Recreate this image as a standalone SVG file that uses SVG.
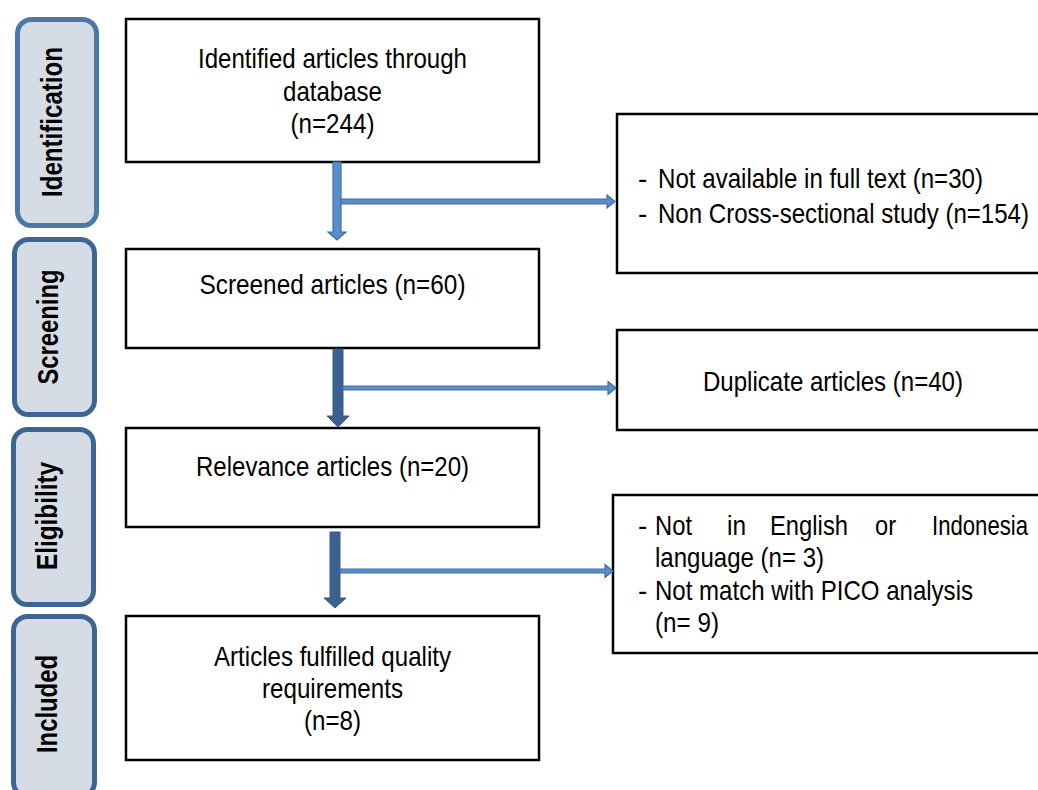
<svg xmlns="http://www.w3.org/2000/svg" width="1038" height="790" viewBox="0 0 1038 790">
<defs>
<style>
.stage{fill:#d5dce6;stroke:#3c6594;stroke-width:5}
.stage1{fill:#d5dce6;stroke:#4a79a8;stroke-width:5}
.stxt{font-family:"Liberation Sans",Arial,sans-serif;font-size:29px;font-weight:bold;fill:#000;text-anchor:middle}
.box{fill:#fff;stroke:#000;stroke-width:2.5}
.t{font-family:"Liberation Sans",Arial,sans-serif;font-size:28px;fill:#000}
.c{text-anchor:middle}
.light{fill:#5a8ec9;stroke:#3e6fa6;stroke-width:1.2}
.dark{fill:#3a6190;stroke:#385d8a;stroke-width:1}
</style>
</defs>
<rect width="1038" height="790" fill="#fff"/>

<g id="stage-identification">
<rect class="stage1" x="17.5" y="19.5" width="79" height="206" rx="14"/>
<text class="stxt" transform="translate(62,122) rotate(-90)" textLength="150" lengthAdjust="spacingAndGlyphs">Identification</text>
</g>
<g id="stage-screening">
<rect class="stage" x="14.5" y="239.5" width="80" height="175" rx="14"/>
<text class="stxt" transform="translate(58,327) rotate(-90)" textLength="115" lengthAdjust="spacingAndGlyphs">Screening</text>
</g>
<g id="stage-eligibility">
<rect class="stage" x="13.5" y="429.5" width="80" height="175" rx="14"/>
<text class="stxt" transform="translate(57,516) rotate(-90)" textLength="108" lengthAdjust="spacingAndGlyphs">Eligibility</text>
</g>
<g id="stage-included">
<rect class="stage" x="13.5" y="616.5" width="81" height="180" rx="14"/>
<text class="stxt" transform="translate(57,704) rotate(-90)" textLength="98" lengthAdjust="spacingAndGlyphs">Included</text>
</g>

<g id="node-identified">
<rect class="box" x="126" y="19" width="413" height="143"/>
<text class="t c" x="332.5" y="68" textLength="269" lengthAdjust="spacingAndGlyphs">Identified articles through</text>
<text class="t c" x="332.5" y="100.5" textLength="99" lengthAdjust="spacingAndGlyphs">database</text>
<text class="t c" x="332.5" y="133" textLength="84" lengthAdjust="spacingAndGlyphs">(n=244)</text>
</g>
<g id="node-screened">
<rect class="box" x="126" y="249" width="413" height="99"/>
<text class="t c" x="332.5" y="294" textLength="266" lengthAdjust="spacingAndGlyphs">Screened articles (n=60)</text>
</g>
<g id="node-relevance">
<rect class="box" x="126" y="428" width="413" height="99"/>
<text class="t c" x="332.5" y="476" textLength="273" lengthAdjust="spacingAndGlyphs">Relevance articles (n=20)</text>
</g>
<g id="node-included">
<rect class="box" x="126" y="616" width="413" height="144"/>
<text class="t c" x="332.5" y="666" textLength="237" lengthAdjust="spacingAndGlyphs">Articles fulfilled quality</text>
<text class="t c" x="332.5" y="698" textLength="141" lengthAdjust="spacingAndGlyphs">requirements</text>
<text class="t c" x="332.5" y="730" textLength="57" lengthAdjust="spacingAndGlyphs">(n=8)</text>
</g>

<g id="node-excluded-1">
<rect class="box" x="617" y="114" width="430" height="159"/>
<text class="t" x="638" y="188">-</text>
<text class="t" x="658" y="188" textLength="325" lengthAdjust="spacingAndGlyphs">Not available in full text (n=30)</text>
<text class="t" x="638" y="223">-</text>
<text class="t" x="658" y="223" textLength="371" lengthAdjust="spacingAndGlyphs">Non Cross-sectional study (n=154)</text>
</g>
<g id="node-duplicate">
<rect class="box" x="617" y="330" width="430" height="100"/>
<text class="t" x="703" y="391" textLength="260" lengthAdjust="spacingAndGlyphs">Duplicate articles (n=40)</text>
</g>
<g id="node-excluded-2">
<rect class="box" x="613" y="495" width="434" height="158"/>
<text class="t" x="638" y="535">-</text>
<text class="t" y="535"><tspan x="655" textLength="37" lengthAdjust="spacingAndGlyphs">Not</tspan><tspan x="727" textLength="19" lengthAdjust="spacingAndGlyphs">in</tspan><tspan x="770" textLength="78" lengthAdjust="spacingAndGlyphs">English</tspan><tspan x="875" textLength="21" lengthAdjust="spacingAndGlyphs">or</tspan><tspan x="932" textLength="96" lengthAdjust="spacingAndGlyphs">Indonesia</tspan></text>
<text class="t" x="655" y="567" textLength="169" lengthAdjust="spacingAndGlyphs">language (n= 3)</text>
<text class="t" x="638" y="600">-</text>
<text class="t" x="655" y="600" textLength="318" lengthAdjust="spacingAndGlyphs">Not match with PICO analysis</text>
<text class="t" x="655" y="632" textLength="64" lengthAdjust="spacingAndGlyphs">(n= 9)</text>
</g>

<g id="connectors">
<polygon class="light" points="333,162 341,162 341,232 346,232 337,240 328,232 333,232"/>
<polygon class="light" points="341,199 607,199 607,195 615,201.5 607,208 607,204 341,204"/>
<polygon class="dark" points="333,349 343,349 343,416 349,416 338,427 327,416 333,416"/>
<polygon class="light" points="343,386 608,386 608,381.5 616,388 608,394.5 608,390 343,390"/>
<polygon class="dark" points="330,532 340,532 340,598 346,598 335,608 324,598 330,598"/>
<polygon class="light" points="340,569 605,569 605,564.5 613,571 605,577.5 605,573 340,573"/>
</g>
</svg>
